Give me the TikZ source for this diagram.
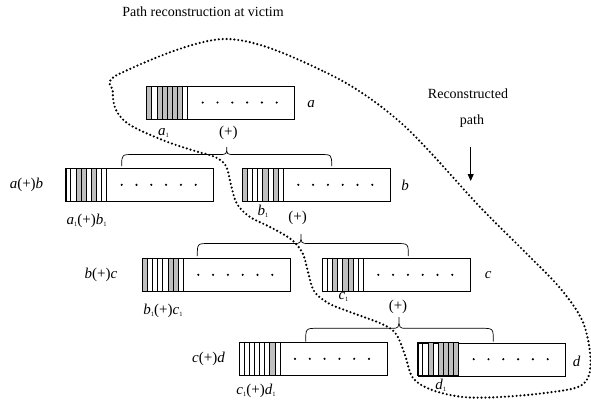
\documentclass[tikz,border=0pt]{standalone}
\usepackage{fontspec}
\setmainfont{Liberation Serif}
\usetikzlibrary{arrows.meta}
\definecolor{stripegray}{gray}{0.75}
\newcommand\regbox[4]{%
  \node[pkt] (#1) at (#2,#3) {};
  \foreach \c [count=\i from 0] in {#4} {
    \ifnum\c=1
      \filldraw[fill=stripegray, line width=0.7pt] (#2+\i*5.125,#3) rectangle ++(5.125,33);
    \else
      \draw[line width=0.7pt] (#2+\i*5.125,#3) rectangle ++(5.125,33);
    \fi
  }
  \draw[line width=1pt] (#2+41,#3) -- ++(0,33);
  \foreach \k in {0,...,5} \fill (#2+56+\k*14.8,#3+16.5) circle (1.2pt);
}
\newcommand\lblsub[2]{{\itshape #1}\raisebox{-0.3ex}{\fontsize{6.5}{6.5}\selectfont #2}}
\newcommand\bracepath[6]{% xl xr yb yh xm ytip
  \draw[line width=0.7pt] (#1,#3) .. controls (#1,#4) .. (#1+12,#4) -- (#5-8,#4)
    .. controls (#5,#4) .. (#5,#6) .. controls (#5,#4) .. (#5+8,#4) -- (#2-12,#4)
    .. controls (#2,#4) .. (#2,#3);
}
\begin{document}
\begin{tikzpicture}[x=1pt,y=-1pt,
  pkt/.style={draw, line width=0.7pt, minimum width=147.5pt, minimum height=33pt, inner sep=0pt, anchor=north west},
  lab/.style={font=\fontsize{15}{17}\selectfont, inner sep=0pt},
  ttl/.style={font=\fontsize{14}{16}\selectfont, inner sep=0pt},
  dotline/.style={line width=2.4pt, line cap=round, dash pattern=on 0pt off 3.9pt},
  arr/.style={line width=0.9pt, -{Triangle[length=7pt,width=6pt]}}]
\useasboundingbox (0,0) rectangle (591,405);

% title and annotation
\node[ttl] (title) at (203,12) {Path reconstruction at victim};
\node[ttl] (recon) at (468,94) {Reconstructed};
\node[ttl] (pathlbl) at (472,121) {path};
\coordinate (arrs) at (470.7,146.7);
\coordinate (arre) at (470.7,181);
\draw[arr] (arrs) -- (arre);

% packets
\regbox{pa}{146.7}{86}{1,0,1,1,1,1,1,0}
\regbox{pab}{65.7}{168.3}{0,0,1,1,0,1,0,0}
\regbox{pb}{242.3}{168.3}{1,0,0,0,1,0,1,0}
\regbox{pbc}{142.3}{258.3}{1,0,0,0,0,1,1,0}
\regbox{pc}{322.3}{258.3}{0,0,1,0,1,1,0,0}
\regbox{pcd}{239}{342.3}{0,0,0,0,0,0,1,0}
\regbox{pd}{417.7}{342.7}{0,0,1,0,1,1,1,1}

% braces
\bracepath{121.7}{331.7}{166}{154.5}{226.7}{147}
\bracepath{197.3}{408.3}{256}{243.5}{301}{234}
\bracepath{305.7}{493.3}{341.5}{328.3}{399}{317}

% labels
\node[lab] (la) at (311,104.3) {\itshape a};
\node[lab] (lb) at (405,185) {\itshape b};
\node[lab] (lc) at (488.3,275) {\itshape c};
\node[lab] (ld) at (576.7,361.7) {\itshape d};
\node[lab] (lab) at (26.5,184.5) {{\itshape a}(+){\itshape b}};
\node[lab] (lbc) at (101,274.5) {{\itshape b}(+){\itshape c}};
\node[lab] (lcd) at (208.5,359) {{\itshape c}(+){\itshape d}};
\node[lab] (sa) at (163.5,133) {\lblsub{a}{1}};
\node[lab] (sab) at (86.7,221) {\lblsub{a}{1}(+)\lblsub{b}{1}};
\node[lab] (sb) at (263,211.5) {\lblsub{b}{1}};
\node[lab] (sbc) at (163,311) {\lblsub{b}{1}(+)\lblsub{c}{1}};
\node[lab] (sc) at (343.5,297) {\lblsub{c}{1}};
\node[lab] (scd) at (256,391) {\lblsub{c}{1}(+)\lblsub{d}{1}};
\node[lab] (sd) at (440.7,385) {\lblsub{d}{1}};
\node[lab] (op1) at (228.3,132.5) {(+)};
\node[lab] (op2) at (297.7,218.3) {(+)};
\node[lab] (op3) at (398,307) {(+)};

% reconstructed path boundary
\draw[dotline] plot[smooth cycle, tension=0.55] coordinates {
 (225,39) (325,72) (400,122) (480,207) (525,252) (560,288) (582,320) (590,352)
 (589,375) (578,387) (545,393) (500,397) (463,397) (432,390) (413,378) (405,355)
 (396,334) (382,324) (350,312) (328,303) (314,291) (308,272) (303,254) (292,240)
 (272,228) (250,217) (237,204) (231,185) (226,166) (215,157) (195,151) (165,141)
 (130,125) (116,110) (113,92) (119,74)};
\end{tikzpicture}
\end{document}
